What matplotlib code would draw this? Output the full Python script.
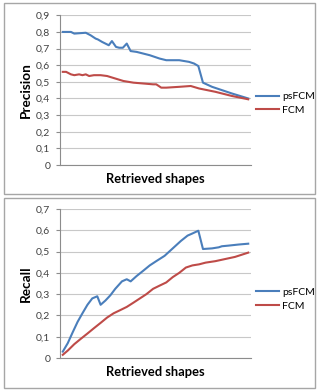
import matplotlib
matplotlib.use("Agg")
import matplotlib.pyplot as plt
from matplotlib.patches import Rectangle

# ---------------- data ----------------
series_names = ["psFCM", "FCM"]

prec_ps_x = [0, 4.4, 6.2, 12.4, 15, 17.7, 18.9, 21.2, 23.9, 24.8, 26.5, 28.7, 30.4, 32.4,
             34.5, 36.6, 39.8, 41.6, 46.9, 52.2, 55.8, 62.8, 68.1, 70.8, 73.1, 75.6, 80.5, 91.2, 100]
prec_ps_y = [0.80, 0.80, 0.79, 0.795, 0.78, 0.76, 0.755, 0.74, 0.725, 0.72, 0.745, 0.71, 0.705, 0.705,
             0.73, 0.685, 0.68, 0.675, 0.66, 0.64, 0.63, 0.63, 0.62, 0.61, 0.595, 0.495, 0.47, 0.43, 0.40]

prec_fcm_x = [0, 1.8, 4.4, 6.2, 8.8, 10.6, 12.4, 14.2, 16.8, 20.4, 23.9, 28.3, 32.7, 38.1, 43.4,
              48.7, 50.4, 53.1, 55.8, 62.8, 69.0, 73.5, 82.3, 91.2, 100]
prec_fcm_y = [0.56, 0.56, 0.545, 0.54, 0.545, 0.54, 0.545, 0.535, 0.54, 0.54, 0.535, 0.52, 0.505, 0.495, 0.49,
              0.485, 0.485, 0.465, 0.465, 0.47, 0.475, 0.46, 0.44, 0.415, 0.395]

rec_ps_x = [0, 2.7, 5.3, 8.0, 10.6, 13.3, 15.9, 18.6, 20.4, 23.0, 25.7, 28.3, 31.9, 34.5, 36.6,
            39.8, 43.4, 46.9, 50.4, 54.9, 59.3, 63.7, 67.3, 69.9, 73.1, 75.6, 80.5, 84.1, 85.8, 89.4, 94.7, 100]
rec_ps_y = [0.03, 0.07, 0.12, 0.17, 0.21, 0.25, 0.28, 0.29, 0.25, 0.27, 0.295, 0.325, 0.36, 0.37, 0.36,
            0.385, 0.41, 0.435, 0.455, 0.48, 0.515, 0.55, 0.575, 0.585, 0.598, 0.512, 0.515, 0.52, 0.525, 0.528, 0.533, 0.537]

rec_fcm_x = [0, 2.7, 6.2, 9.7, 13.3, 16.8, 20.4, 23.9, 27.4, 31.0, 34.5, 38.1, 41.6, 45.1, 48.7,
             52.2, 55.8, 59.3, 62.8, 66.4, 69.9, 73.5, 77.0, 82.3, 87.6, 92.9, 100]
rec_fcm_y = [0.015, 0.035, 0.065, 0.09, 0.115, 0.14, 0.165, 0.19, 0.21, 0.225, 0.24, 0.26, 0.28, 0.30, 0.325,
             0.34, 0.355, 0.38, 0.40, 0.425, 0.435, 0.44, 0.448, 0.455, 0.465, 0.475, 0.495]

prec_ticks = [0, 0.1, 0.2, 0.3, 0.4, 0.5, 0.6, 0.7, 0.8, 0.9]
prec_labels = ["0", "0,1", "0,2", "0,3", "0,4", "0,5", "0,6", "0,7", "0,8", "0,9"]
rec_ticks = [0, 0.1, 0.2, 0.3, 0.4, 0.5, 0.6, 0.7]
rec_labels = ["0", "0,1", "0,2", "0,3", "0,4", "0,5", "0,6", "0,7"]

BLUE = "#4A7EBB"
RED = "#BE4B48"
FONT = ["Lato", "DejaVu Sans"]
plt.rcParams["font.family"] = FONT

W, H = 317, 390
fig = plt.figure(figsize=(W / 100, H / 100), dpi=100)


def fx(px):
    return px / W


def fy(py):
    return 1 - py / H


# chart borders
for (x0, y0, x1, y1) in [(4, 3, 315, 194), (4, 198, 315, 388)]:
    fig.patches.append(Rectangle((fx(x0), fy(y1)), fx(x1) - fx(x0), fy(y0) - fy(y1),
                                 transform=fig.transFigure, fill=False,
                                 edgecolor="#A6A6A6", linewidth=1.0))


def make_chart(top_px, bot_px, ymax, xs, ys, ticks, labels, ylabel, leg_y):
    ax = fig.add_axes([fx(60), fy(bot_px), fx(251) - fx(60), fy(top_px) - fy(bot_px)])
    l1, = ax.plot(xs[0], ys[0], color=BLUE, linewidth=1.5, label=series_names[0])
    l2, = ax.plot(xs[1], ys[1], color=RED, linewidth=1.5, label=series_names[1])
    ax.set_xlim(-1.5, 101.5)
    ax.set_ylim(0, ymax)
    ax.set_yticks(ticks)
    ax.set_yticklabels(labels, fontsize=7.5, color="#404040")
    ax.set_xticks([])
    ax.grid(axis="y", color="#C8C8C8", linewidth=0.8)
    ax.set_axisbelow(True)
    for s in ["top", "right"]:
        ax.spines[s].set_visible(False)
    for s in ["left", "bottom"]:
        ax.spines[s].set_color("#8C8C8C")
        ax.spines[s].set_linewidth(0.8)
    ax.tick_params(axis="y", length=3, width=0.8, color="#8C8C8C", pad=4)
    ax.set_xlabel("Retrieved shapes", fontsize=9.3, fontweight="bold", labelpad=6)
    ax.set_ylabel(ylabel, fontsize=9.8, fontweight="bold", labelpad=3)
    ax.legend(handles=[l1, l2], loc="center left",
              bbox_to_anchor=(fx(252), fy(leg_y)), bbox_transform=fig.transFigure,
              frameon=False, fontsize=7.5, handlelength=2.2, handletextpad=0.3,
              labelspacing=0.45, borderaxespad=0)
    return ax


make_chart(15.3, 165, 0.9, [prec_ps_x, prec_fcm_x], [prec_ps_y, prec_fcm_y],
           prec_ticks, prec_labels, "Precision", 103.5)
make_chart(209, 358, 0.7, [rec_ps_x, rec_fcm_x], [rec_ps_y, rec_fcm_y],
           rec_ticks, rec_labels, "Recall", 299)

fig.savefig("out.png", dpi=100)
